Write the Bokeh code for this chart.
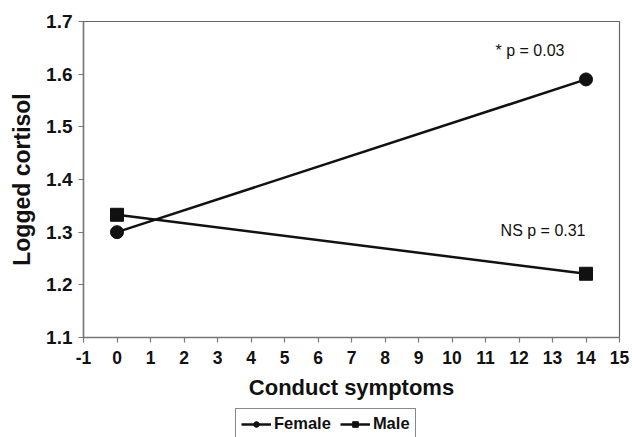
from bokeh.plotting import figure
from bokeh.layouts import column
from bokeh.models import FixedTicker, Label, Legend, LegendItem, ColumnDataSource, CustomJSTickFormatter
from bokeh.embed import file_html
from bokeh.resources import INLINE

symptoms = [0, 14]
female = [1.30, 1.59]
male = [1.333, 1.221]
x_ticks = list(range(-1, 16))
y_ticks = [1.1, 1.2, 1.3, 1.4, 1.5, 1.6, 1.7]
notes = ["* p = 0.03", "NS p = 0.31"]
note_x = [11.3, 11.45]
note_y = [1.645, 1.303]
series_names = ["Female", "Male"]

FONT = "Liberation Sans"
INK = "#111111"

p = figure(width=632, height=405, output_backend="svg", toolbar_location=None,
           x_range=(-1, 15), y_range=(1.1, 1.7),
           min_border_left=83, min_border_right=13, min_border_top=21, min_border_bottom=68)
p.grid.visible = False
p.background_fill_color = "white"
p.border_fill_color = "white"
p.outline_line_color = "#666666"
p.outline_line_width = 1.2

for ax in (p.xaxis[0], p.yaxis[0]):
    ax.axis_line_color = "#777777"
    ax.axis_line_width = 1.5
    ax.major_tick_line_color = "#777777"
    ax.major_tick_line_width = 1.2
    ax.major_tick_out = 5
    ax.major_tick_in = 0
    ax.minor_tick_line_color = None
    ax.major_label_text_font = FONT
    ax.major_label_text_font_style = "bold"
    ax.major_label_text_color = INK
    ax.axis_label_text_font = FONT
    ax.axis_label_text_font_style = "bold"
    ax.axis_label_text_color = INK

p.xaxis.major_label_text_font_size = "17.5px"
p.yaxis.major_label_text_font_size = "19px"
p.xaxis.axis_label_text_font_size = "22px"
p.yaxis.axis_label_text_font_size = "23px"
p.xaxis.ticker = FixedTicker(ticks=x_ticks)
p.yaxis.ticker = FixedTicker(ticks=y_ticks)
p.xaxis.formatter = CustomJSTickFormatter(code="return String(Math.round(tick))")
p.yaxis.formatter = CustomJSTickFormatter(code="return tick.toFixed(1)")
p.xaxis.axis_label = "Conduct symptoms"
p.yaxis.axis_label = "Logged cortisol"
p.xaxis.major_label_standoff = 8
p.yaxis.major_label_standoff = 6
p.xaxis.axis_label_standoff = 8
p.yaxis.axis_label_standoff = 8

src = ColumnDataSource(dict(x=symptoms, f=female, m=male))
p.line("x", "f", source=src, line_color=INK, line_width=2.5)
p.scatter("x", "f", source=src, marker="circle", size=13, color=INK)
p.line("x", "m", source=src, line_color=INK, line_width=2.5)
p.scatter("x", "m", source=src, marker="square", size=13, color=INK)

for t, xx, yy in zip(notes, note_x, note_y):
    p.add_layout(Label(x=xx, y=yy, text=t, text_font=FONT, text_font_size="16px",
                       text_color=INK, text_baseline="middle", text_align="left"))

# legend strip below the chart (same series, drawn out of view so only the legend shows)
lg = figure(width=632, height=32, output_backend="svg", toolbar_location=None,
            x_range=(100, 101), y_range=(100, 101),
            min_border_left=0, min_border_right=0, min_border_top=0, min_border_bottom=0)
lg.axis.visible = False
lg.grid.visible = False
lg.outline_line_color = None
lf = lg.line("x", "f", source=src, line_color=INK, line_width=2.5)
cf = lg.scatter("x", "f", source=src, marker="circle", size=11, color=INK)
lm = lg.line("x", "m", source=src, line_color=INK, line_width=2.5)
sm = lg.scatter("x", "m", source=src, marker="square", size=11, color=INK)

legend = Legend(items=[LegendItem(label=series_names[0], renderers=[lf, cf]),
                       LegendItem(label=series_names[1], renderers=[lm, sm])],
                orientation="horizontal", location=(152, -2),
                label_text_font=FONT, label_text_font_style="bold", label_text_font_size="16.5px",
                label_text_color=INK,
                border_line_color=INK, border_line_width=1,
                glyph_width=30, glyph_height=14, label_standoff=3, spacing=9,
                padding=5, margin=0, label_height=14)
lg.add_layout(legend, "center")

open("out.html", "w").write(file_html(column(p, lg, spacing=0), INLINE))
